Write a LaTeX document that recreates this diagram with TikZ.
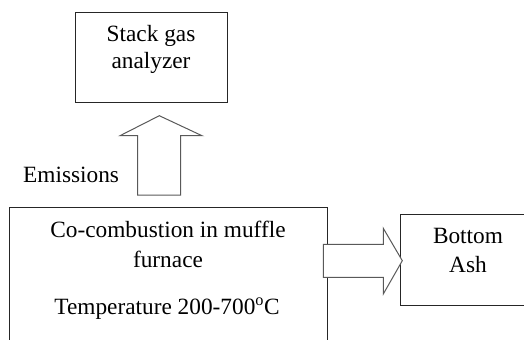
\documentclass[tikz,border=0pt]{standalone}
\usepackage{fontspec}
\setmainfont{Liberation Serif}
\begin{document}
\begin{tikzpicture}[x=1bp,y=-1bp,
  box/.style={draw=black!85, line width=0.9bp, inner sep=0pt},
  blockarrow/.style={draw=black!65, line width=1bp, fill=white, line join=miter},
  txt/.style={inner sep=0pt, anchor=base, font=\fontsize{23.4}{28}\selectfont, text=black}]
\useasboundingbox (0,0) rectangle (524,339);
\clip (0,0) rectangle (524,339);
% boxes
\node[box, minimum width=152bp, minimum height=90bp] (gas) at (151,57) {};
\node[box, minimum width=318bp, minimum height=160bp] (furn) at (168,287.5) {};
\node[box, minimum width=150bp, minimum height=91bp] (ash) at (475,260) {};
% texts
\node[txt] (t1) at (151,41) {Stack gas};
\node[txt] (t2) at (151,68.3) {analyzer};
\node[txt] (t3) at (168,237) {Co-combustion in muffle};
\node[txt] (t4) at (168,267) {furnace};
\node[txt] (t5) at (167,314.5) {Temperature 200-700\textsuperscript{o}C};
\node[txt] (t6) at (468,243) {Bottom};
\node[txt] (t7) at (468,272) {Ash};
\node[txt, anchor=base west] (em) at (23,182.5) {Emissions};
% up arrow
\coordinate (upt) at (159.3,115.7);
\draw[blockarrow] (upt) -- (202,135.7) -- (180.7,135.7) -- (180.7,195) -- (137.7,195) -- (137.7,135.7) -- (120,135.7) -- cycle;
% right arrow
\coordinate (rt) at (402.3,260.7);
\draw[blockarrow] (rt) -- (383.3,294) -- (383.3,277.3) -- (323.3,277.3) -- (323.3,244.3) -- (383.3,244.3) -- (383.3,228.3) -- cycle;
\end{tikzpicture}
\end{document}
